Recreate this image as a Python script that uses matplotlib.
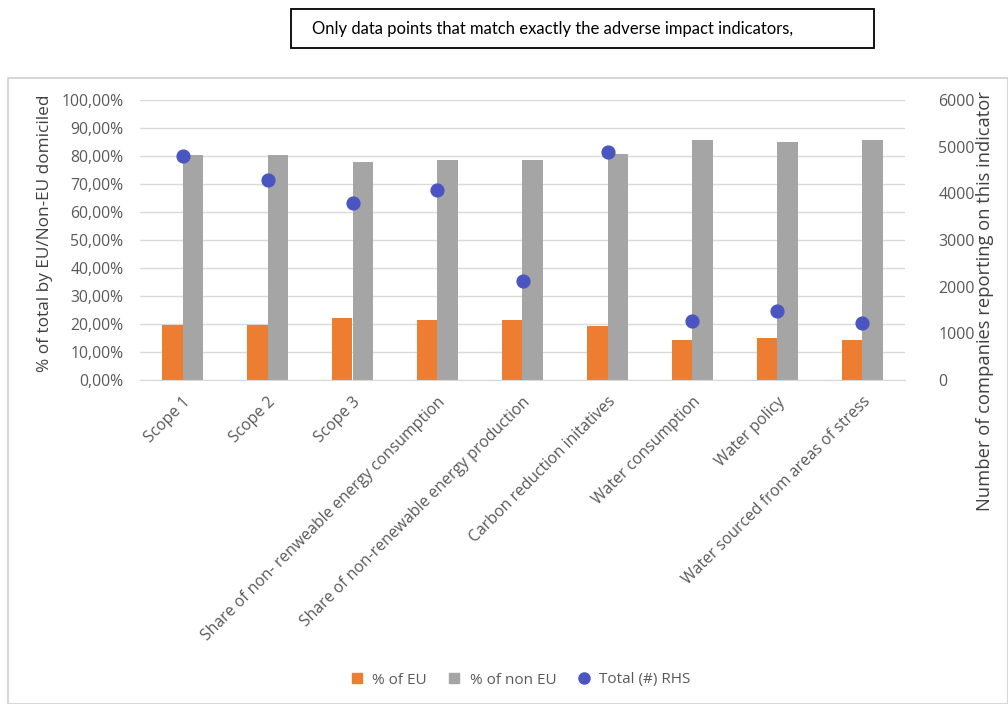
import matplotlib.pyplot as plt
import numpy as np
from matplotlib.patches import Rectangle
from matplotlib.ticker import FuncFormatter, MultipleLocator
from matplotlib.lines import Line2D

categories = ['Scope 1', 'Scope 2', 'Scope 3',
              'Share of non- renweable energy consumption',
              'Share of non-renewable energy production',
              'Carbon reduction initatives', 'Water consumption',
              'Water policy', 'Water sourced from areas of stress']
pct_eu = [0.195, 0.195, 0.22, 0.215, 0.215, 0.192, 0.142, 0.15, 0.142]
pct_non_eu = [0.805, 0.805, 0.78, 0.785, 0.785, 0.808, 0.858, 0.85, 0.858]
total_rhs = [4790, 4290, 3800, 4075, 2120, 4890, 1270, 1480, 1230]

orange = '#ED7D31'
grey = '#A5A5A5'
blue = '#4B55C2'
txt = '#595959'

plt.rcParams['font.family'] = ['Open Sans', 'DejaVu Sans']

fig = plt.figure(figsize=(10.08, 7.04), dpi=100)
fig.patches.append(Rectangle((8 / 1008, 0), 1 - 8 / 1008, 1 - 78 / 704,
                             transform=fig.transFigure, fill=False,
                             edgecolor='#D0D0D0', linewidth=1.2))

ax = fig.add_axes([140 / 1008, 1 - 380 / 704, 765 / 1008, 280 / 704])
x = np.arange(len(categories))
w = 0.245
ax.bar(x - w / 2, pct_eu, width=w, color=orange, label='% of EU', zorder=2)
ax.bar(x + w / 2, pct_non_eu, width=w, color=grey, label='% of non EU', zorder=2)
ax.set_xlim(-0.5, len(categories) - 0.5)
ax.set_ylim(0, 1.0)
ax.yaxis.set_major_locator(MultipleLocator(0.1))
ax.yaxis.set_major_formatter(FuncFormatter(lambda v, p: f'{v * 100:.2f}%'.replace('.', ',')))
ax.grid(axis='y', color='#D9D9D9', linewidth=1, zorder=0)
ax.set_axisbelow(True)
for s in ['top', 'right', 'left']:
    ax.spines[s].set_visible(False)
ax.spines['bottom'].set_color('#D9D9D9')
ax.tick_params(axis='y', length=0, colors=txt, labelsize=11.3, pad=12)
ax.tick_params(axis='x', length=0, colors=txt, pad=10)
ax.set_xticks(x)
ax.set_xticklabels(categories, rotation=45, ha='right', rotation_mode='anchor',
                   fontsize=11.3, color=txt)

ax2 = ax.twinx()
ax2.scatter(x, total_rhs, s=85, color=blue, zorder=3, label='Total (#) RHS')
ax2.set_ylim(0, 6000)
ax2.yaxis.set_major_locator(MultipleLocator(1000))
for s in ['top', 'right', 'left', 'bottom']:
    ax2.spines[s].set_visible(False)
ax2.tick_params(axis='y', length=0, colors=txt, labelsize=11.5, pad=24)

fig.text(45 / 1008, 1 - 233 / 704, '% of total by EU/Non-EU domiciled',
         rotation=90, fontsize=12.4, color='#404040', ha='center', va='center')
fig.text(985 / 1008, 1 - 301 / 704,
         'Number of companies reporting on this indicator',
         rotation=90, fontsize=13.2, color='#404040', ha='center', va='center')

handles = [Line2D([], [], marker='s', linestyle='', color=orange, markersize=7),
           Line2D([], [], marker='s', linestyle='', color=grey, markersize=7),
           Line2D([], [], marker='o', linestyle='', color=blue, markersize=8)]
fig.legend(handles, ['% of EU', '% of non EU', 'Total (#) RHS'], loc='center',
           bbox_to_anchor=(516 / 1008, 1 - 680 / 704), ncol=3, frameon=False,
           fontsize=11, labelcolor=txt, handletextpad=0.0, columnspacing=0.8)

fig.text(312 / 1008, 1 - 29 / 704,
         'Only data points that match exactly the adverse impact indicators,',
         fontsize=12, family=['Lato', 'DejaVu Sans'],
         va='center', ha='left', color='black')
fig.patches.append(Rectangle((291 / 1008, 1 - 48 / 704), 583 / 1008, 39 / 704,
                             transform=fig.transFigure, fill=False,
                             edgecolor='black', linewidth=1.3))

fig.savefig('out.png', dpi=100)
